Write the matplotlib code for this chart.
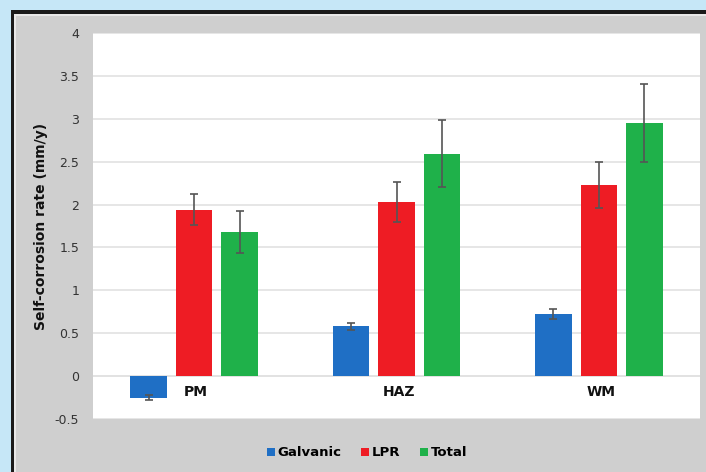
import numpy as np
import matplotlib.pyplot as plt
from matplotlib.patches import Rectangle

categories = ['PM', 'HAZ', 'WM']
series = ['Galvanic', 'LPR', 'Total']
galvanic = [-0.25, 0.58, 0.72]
galvanic_err = [0.03, 0.04, 0.06]
lpr = [1.94, 2.03, 2.23]
lpr_err = [0.18, 0.23, 0.27]
total = [1.68, 2.59, 2.95]
total_err = [0.25, 0.39, 0.45]
colors = ['#1f6fc5', '#ee1c24', '#1fb14a']

W, H = 706, 472
fig = plt.figure(figsize=(W / 100, H / 100), dpi=100)
fig.patch.set_facecolor('#c6e7f7')

# outer frame and gray chart area
fig.patches.append(Rectangle((11 / W, 0), 1, 1 - 10 / H, transform=fig.transFigure,
                             facecolor='#1a1a1a', edgecolor='none', zorder=-3))
fig.patches.append(Rectangle((14 / W, 0), 1, 1 - 14 / H, transform=fig.transFigure,
                             facecolor='#e8e8e8', edgecolor='none', zorder=-2))
fig.patches.append(Rectangle((16 / W, 0), 1, 1 - 16 / H, transform=fig.transFigure,
                             facecolor='#cfcfcf', edgecolor='none', zorder=-1))

ax = fig.add_axes([93 / W, 1 - 419 / H, (700 - 93) / W, (419 - 33) / H])
ax.set_zorder(1)
ax.set_facecolor('white')

x = np.arange(len(categories))
width = 0.18
step = 0.225
data = [(galvanic, galvanic_err), (lpr, lpr_err), (total, total_err)]
for i, (vals, errs) in enumerate(data):
    ax.bar(x + (i - 1) * step, vals, width, yerr=errs, color=colors[i], label=series[i],
           error_kw=dict(ecolor='#555555', elinewidth=1.2, capsize=3, capthick=1.2), zorder=3)

ax.set_xlim(-0.5, 2.5)
ax.set_ylim(-0.5, 4)
ax.set_yticks(np.arange(-0.5, 4.01, 0.5))
ax.set_yticklabels(['-0.5', '0', '0.5', '1', '1.5', '2', '2.5', '3', '3.5', '4'])
ax.set_xticks([])
ax.grid(axis='y', color='#e2e2e2', linewidth=1.2, zorder=0)
ax.axhline(0, color='#e2e2e2', linewidth=1.2, zorder=1)
for s in ax.spines.values():
    s.set_visible(False)
ax.tick_params(axis='y', length=0, labelsize=9, labelcolor='#333333', pad=10)

for xi, c in zip(x, categories):
    ax.text(xi + 0.01, -0.1, c, ha='center', va='top', fontsize=10, fontweight='bold', color='#111111')

ax.set_ylabel('Self-corrosion rate (mm/y)', fontsize=10, fontweight='bold', color='#111111', labelpad=5)

fig.legend(loc='center', bbox_to_anchor=(367 / W, 1 - 453 / H), ncol=3, frameon=False,
           handlelength=0.6, handleheight=0.6, handletextpad=0.2, columnspacing=1.5,
           prop={'weight': 'bold', 'size': 9.5})

fig.savefig('out.png', dpi=100, facecolor=fig.get_facecolor())
